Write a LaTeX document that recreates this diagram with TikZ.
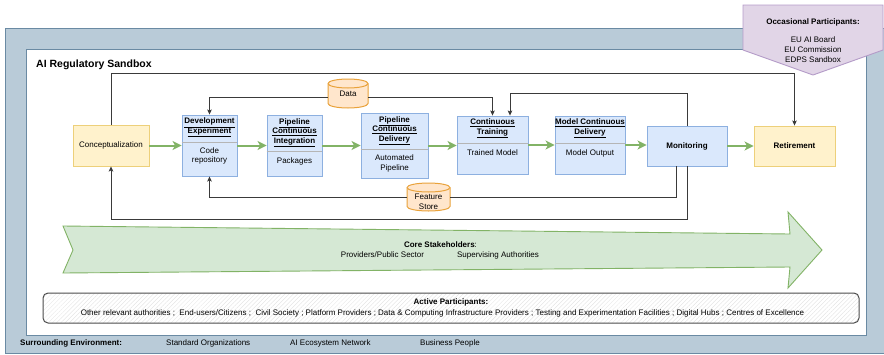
\documentclass[tikz,border=0pt]{standalone}
\usepackage{fontspec}
\setmainfont{Liberation Sans}
\usetikzlibrary{arrows.meta,patterns.meta}

\definecolor{envfill}{HTML}{B9CBD8}
\definecolor{envline}{HTML}{6A8AA3}
\definecolor{lanefill}{HTML}{DAE8FC}
\definecolor{laneline}{HTML}{8DB0E0}
\definecolor{sepgray}{HTML}{B5B5B5}
\definecolor{yelfill}{HTML}{FFF2CC}
\definecolor{yelline}{HTML}{EDD07A}
\definecolor{orfill}{HTML}{FFE6CC}
\definecolor{orline}{HTML}{E9A23B}
\definecolor{grfill}{HTML}{D5E8D4}
\definecolor{grline}{HTML}{82B366}
\definecolor{purfill}{HTML}{E1D5E7}
\definecolor{purline}{HTML}{B49BC8}
\definecolor{linkgray}{HTML}{3A3A3A}

\tikzset{
  lanebox/.style={draw=laneline, fill=lanefill, line width=0.9pt, inner sep=0pt},
  yelbox/.style={draw=yelline, fill=yelfill, line width=0.9pt, inner sep=0pt},
  hdr/.style={align=center, inner sep=0pt, font=\bfseries\fontsize{8}{9.5}\selectfont},
  body/.style={align=center, inner sep=0pt},
  cyl/.style={draw=orline, fill=orfill, line width=1pt},
  flow/.style={draw=grline, line width=2pt, -{Stealth[length=9pt,width=9pt,inset=2.5pt]}},
  conn/.style={draw=linkgray, line width=0.8pt, -{Stealth[length=5pt,width=4.5pt,inset=1pt]}},
  link/.style={draw=linkgray, line width=0.8pt},
  lbl/.style={inner sep=0pt}
}

\begin{document}
\begin{tikzpicture}[x=1pt, y=-1pt, font=\fontsize{8}{9.5}\selectfont]
\useasboundingbox (0,0) rectangle (884,354);

% surrounding environment and sandbox frame
\draw[envline, fill=envfill, line width=0.9pt] (5,28) rectangle (888,353);
\draw[envline, fill=white, line width=0.9pt] (26,49) rectangle (866,335);
\node[lbl, anchor=west, font=\bfseries\fontsize{10.5}{12}\selectfont] (title) at (36,65) {AI Regulatory Sandbox};

% occasional participants banner
\draw[purline, fill=purfill, line width=0.9pt] (743,5) -- (883,5) -- (883,50) -- (813,75) -- (743,50) -- cycle;
\node[lbl, font=\bfseries\fontsize{8}{9.5}\selectfont] (occ) at (813,22) {Occasional Participants:};
\node[lbl] (occa) at (813,40) {EU AI Board};
\node[lbl] (occb) at (813,50) {EU Commission};
\node[lbl] (occc) at (813,60) {EDPS Sandbox};

% core stakeholders arrow
\draw[grline, fill=grfill, line width=0.9pt]
  (63,226) -- (790,234) -- (788,212) -- (822,250) -- (788,288) -- (790,267) -- (63,273) -- (73,250) -- cycle;
\node[lbl] (core) at (440.5,245) {\textbf{Core Stakeholders}:};
\node[lbl] (prov) at (382.5,255) {Providers/Public Sector};
\node[lbl] (sup) at (498,255) {Supervising Authorities};

% lifecycle stages
\node[yelbox, minimum width=76pt, minimum height=41pt] (concept) at (111,145.5) {Conceptualization};
\node[lanebox, minimum width=55pt, minimum height=61pt] (dev) at (209.5,145.5) {};
\node[lanebox, minimum width=55pt, minimum height=61pt] (pci) at (294.5,145.5) {};
\node[lanebox, minimum width=67pt, minimum height=65pt] (pcd) at (394.5,145.5) {};
\node[lanebox, minimum width=71pt, minimum height=58pt] (ct) at (492.5,145) {};
\node[lanebox, minimum width=70pt, minimum height=58pt] (mcd) at (590,145) {};
\node[lanebox, minimum width=80pt, minimum height=40pt, font=\bfseries\fontsize{8}{9.5}\selectfont] (mon) at (687,146) {Monitoring};
\node[yelbox, minimum width=81pt, minimum height=40pt, font=\bfseries\fontsize{8}{9.5}\selectfont] (retire) at (794.5,146) {Retirement};

% header separators
\draw[sepgray, line width=1pt] (dev.west |- 0,142) -- (dev.east |- 0,142);
\draw[sepgray, line width=1pt] (pci.west |- 0,151) -- (pci.east |- 0,151);
\draw[sepgray, line width=1pt] (pcd.west |- 0,149) -- (pcd.east |- 0,149);
\draw[sepgray, line width=1pt] (ct.west |- 0,143) -- (ct.east |- 0,143);
\draw[sepgray, line width=1pt] (mcd.west |- 0,143) -- (mcd.east |- 0,143);

% stage headers and contents
\node[hdr] (devh) at (209.5,127.5) {\underline{Development}\\\underline{Experiment}};
\node[body] (devb) at (209.5,156) {Code\\repository};
\node[hdr] (pcih) at (294.5,132.5) {\underline{Pipeline}\\\underline{Continuous}\\\underline{Integration}};
\node[body] (pcib) at (294.5,161) {Packages};
\node[hdr] (pcdh) at (394.5,130.5) {\underline{Pipeline}\\\underline{Continuous}\\\underline{Delivery}};
\node[body] (pcdb) at (394.5,163.5) {Automated\\Pipeline};
\node[hdr] (cth) at (492.5,128.5) {\underline{Continuous}\\\underline{Training}};
\node[body] (ctb) at (492.5,153) {Trained Model};
\node[hdr] (mcdh) at (590,128.5) {\underline{Model Continuous}\\\underline{Delivery}};
\node[body] (mcdb) at (590,153) {Model Output};

% data stores
\node[inner sep=0pt, minimum width=40pt, minimum height=29pt] (data) at (348,93.5) {};
\draw[cyl] (328,83.5) -- (328,103.5) arc[start angle=180, end angle=360, x radius=20pt, y radius=4.5pt]
  -- (368,83.5) arc[start angle=0, end angle=180, x radius=20pt, y radius=4.5pt] -- cycle;
\draw[orline, line width=1pt] (328,83.5) arc[start angle=180, end angle=360, x radius=20pt, y radius=4.5pt];
\node[lbl] (datat) at (348,94) {Data};

\node[inner sep=0pt, minimum width=43pt, minimum height=28pt] (fs) at (428.5,197) {};
\draw[cyl] (407,187.5) -- (407,206.5) arc[start angle=180, end angle=360, x radius=21.5pt, y radius=4.5pt]
  -- (450,187.5) arc[start angle=0, end angle=180, x radius=21.5pt, y radius=4.5pt] -- cycle;
\draw[orline, line width=1pt] (407,187.5) arc[start angle=180, end angle=360, x radius=21.5pt, y radius=4.5pt];
\node[body] (fst) at (428.5,202) {Feature\\Store};

% main flow
\draw[flow] (concept.east) -- (concept.east -| dev.west);
\draw[flow] (dev.east) -- (dev.east -| pci.west);
\draw[flow] (pci.east) -- (pci.east -| pcd.west);
\draw[flow] (pcd.east) -- (pcd.east -| ct.west);
\draw[flow] (ct.east) -- (ct.east -| mcd.west);
\draw[flow] (mcd.east) -- (mcd.east -| mon.west);
\draw[flow] (mon.east) -- (mon.east -| retire.west);

% feedback connectors
\draw[conn] (concept.north) -- ++(0,-51) -| (retire.north);
\draw[conn] (mon.south) -- ++(0,53) -| (concept.south);
\draw[link] ([xshift=-11pt]mon.south) |- (fs.east);
\draw[conn] (fs.west) -| (dev.south);
\draw[conn] ([yshift=-3.5pt]data.west) -| (dev.north);
\draw[conn] ([yshift=-3.5pt]data.east) -| (ct.north);
\draw[conn] (mon.north) -- ++(0,-32) -| ([xshift=17.5pt]ct.north);

% active participants
\node[draw=black!70, line width=1pt, rounded corners=5pt, minimum width=816pt, minimum height=30pt,
      preaction={fill=white}, pattern={Lines[angle=45,distance=3pt,line width=0.3pt]}, pattern color=black!12]
      (active) at (451,308) {};
\node[lbl, font=\bfseries\fontsize{8}{9.5}\selectfont] (acth) at (451,302) {Active Participants:};
\node[lbl] (actl) at (442.5,313) {Other relevant authorities ;\ \ End-users/Citizens ;\ \ Civil Society ; Platform Providers ; Data \& Computing Infrastructure Providers ; Testing and Experimentation Facilities ; Digital Hubs ; Centres of Excellence};

% surrounding environment
\node[lbl, anchor=west, font=\bfseries\fontsize{8}{9.5}\selectfont] (env) at (20,343) {Surrounding Environment:};
\node[lbl, anchor=west] (envb) at (166,343) {Standard Organizations};
\node[lbl, anchor=west] (envc) at (290,343) {AI Ecosystem Network};
\node[lbl, anchor=west] (envd) at (420,343) {Business People};
\end{tikzpicture}
\end{document}
